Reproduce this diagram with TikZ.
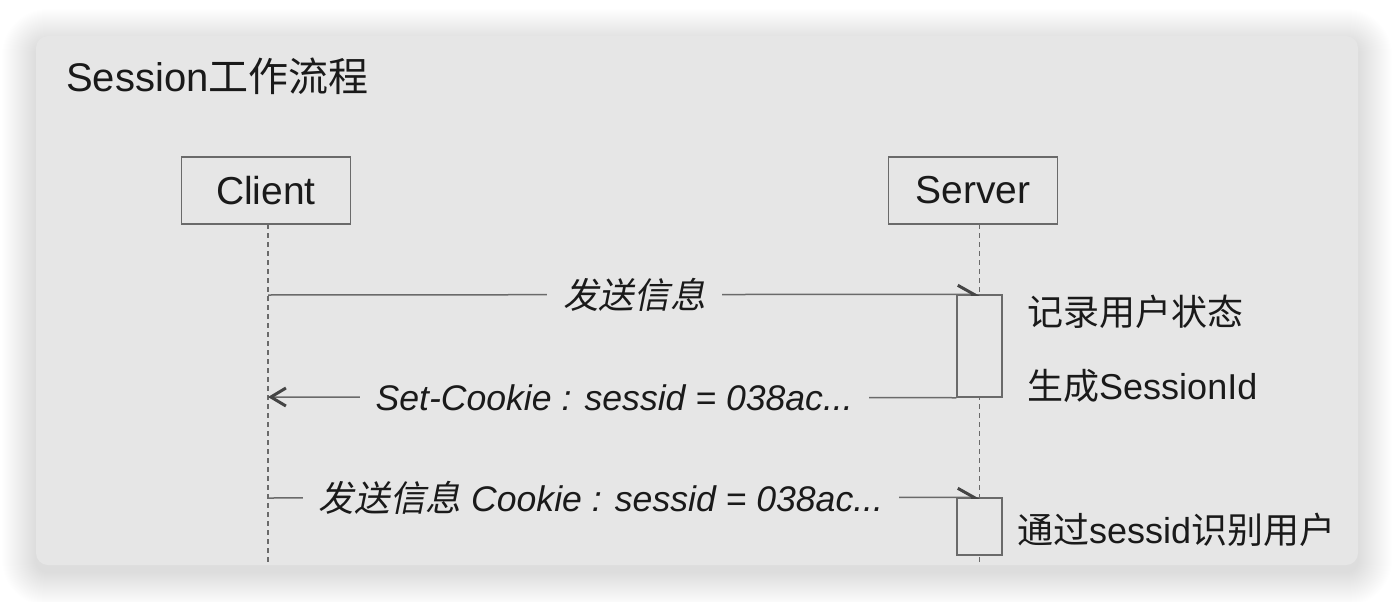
\documentclass[tikz,border=0pt]{standalone}
\usepackage{fontspec}
\setmainfont{Liberation Sans}
\newfontfamily\zh{Noto Sans CJK SC}
\newfontfamily\zhit[FakeSlant=0.2]{Noto Sans CJK SC}
\usetikzlibrary{arrows.meta}

\definecolor{panelgray}{HTML}{E6E6E6}
\definecolor{linegray}{HTML}{6A6A6A}
\definecolor{tipgray}{HTML}{454545}
\definecolor{textblack}{HTML}{1A1A1A}

\tikzset{
  panel/.style={fill=panelgray, rounded corners=12pt},
  softshadow/.style={fill=black, fill opacity=0.005, rounded corners=12pt+#1},
  actor/.style={draw=linegray, line width=1.5pt, fill=panelgray, text=textblack,
    minimum width=169pt, minimum height=67pt, font=\fontsize{39}{47}\selectfont},
  lifeline/.style={draw=linegray, line width=1.4pt, dash pattern=on 5pt off 4pt},
  activation/.style={draw=linegray, line width=1.5pt, fill=panelgray, minimum width=45pt, inner sep=0pt},
  msg/.style={draw=linegray, line width=1.5pt},
  halftip/.style={-{Straight Barb[left, length=16pt, width=18pt, line width'=3pt, color=tipgray]}},
  opentip/.style={-{Straight Barb[length=15pt, width=18pt, line width'=3pt, color=tipgray]}},
  msglabel/.style={fill=panelgray, text=textblack, inner xsep=16pt, inner ysep=2pt,
    font=\fontsize{35.6}{43}\selectfont\itshape},
  note/.style={anchor=base west, inner sep=0pt, text=textblack, font=\fontsize{36}{43}\selectfont},
}

\begin{document}
\begin{tikzpicture}[x=1pt, y=-1pt]
  \useasboundingbox (0,0) rectangle (1394,602);
  \fill[white] (0,0) rectangle (1394,602);
  \foreach \r in {1,...,34}
    \path[softshadow=\r pt] (36-\r,36-\r+7) rectangle (1358+\r,565+\r+7);
  \path[panel] (36,36) rectangle (1358,565);

  \node[note, font=\fontsize{40}{48}\selectfont] (title) at (66,92) {Session{\zh 工作流程}};

  \node[actor] (client) at (266,190.5) {Client};
  \node[actor] (server) at (973,190.5) {Server};

  \coordinate (cl0) at (268,224);
  \coordinate (cl1) at (268,565);
  \coordinate (sv0) at (979.5,224);
  \coordinate (sv1) at (979.5,565);
  \draw[lifeline] (cl0) -- (cl1);
  \draw[lifeline] (sv0) -- (sv1);

  \node[activation, minimum height=102pt] (act1) at (979.5,346) {};
  \node[activation, minimum height=57pt] (act2) at (979.5,526.5) {};

  \coordinate (c1) at (268,295);
  \coordinate (c2) at (268,397);
  \coordinate (c3) at (268,498);

  \draw[msg, halftip] (c1) -- (act1.north)
    node[msglabel, pos=0.515] {\zhit 发送信息};
  \draw[msg, opentip] (act1.south west) -- (c2)
    node[msglabel, pos=0.497] {Set-Cookie : sessid = 038ac...};
  \draw[msg, halftip] (c3) -- (act2.north)
    node[msglabel, pos=0.468] {{\zhit 发送信息} Cookie : sessid = 038ac...};

  \node[note] (state) at (1027,325) {\zh 记录用户状态};
  \node[note] (gen) at (1027,399) {{\zh 生成}SessionId};
  \node[note] (ident) at (1017,543) {{\zh 通过}sessid{\zh 识别用户}};
\end{tikzpicture}
\end{document}
